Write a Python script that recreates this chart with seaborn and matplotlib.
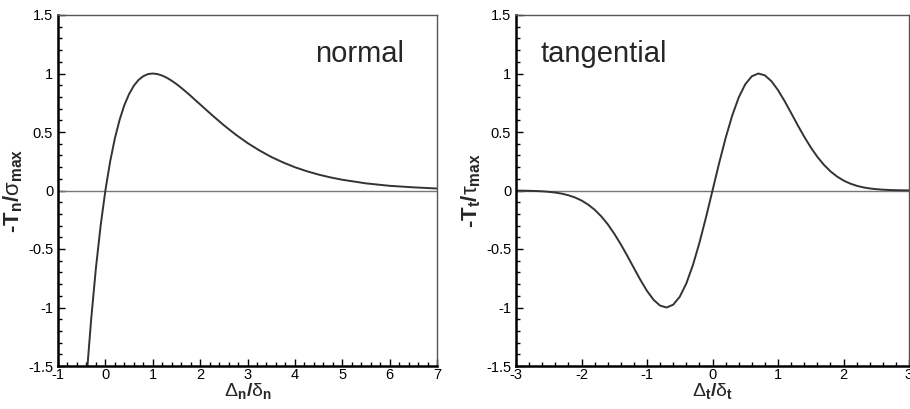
import numpy as np
import matplotlib
matplotlib.use("Agg")
import matplotlib.pyplot as plt
from matplotlib.ticker import MultipleLocator
import seaborn as sns
import pandas as pd

# normal traction-separation curve
normal_sep = [-0.38, -0.3, -0.2, -0.1, 0.0, 0.1, 0.2, 0.3, 0.4, 0.5, 0.6, 0.7, 0.8, 0.9,
              1.0, 1.1, 1.2, 1.3, 1.4, 1.5, 1.6, 1.7, 1.8, 1.9, 2.0, 2.25, 2.5, 2.75,
              3.0, 3.25, 3.5, 3.75, 4.0, 4.25, 4.5, 4.75, 5.0, 5.5, 6.0, 6.5, 7.0]
normal_trac = [-1.510, -1.101, -0.664, -0.300, 0.0, 0.246, 0.445, 0.604, 0.729, 0.824,
               0.895, 0.945, 0.977, 0.995, 1.0, 0.995, 0.982, 0.963, 0.938, 0.910,
               0.878, 0.844, 0.809, 0.772, 0.736, 0.645, 0.558, 0.478, 0.406, 0.343,
               0.287, 0.240, 0.199, 0.165, 0.136, 0.112, 0.092, 0.061, 0.040, 0.027, 0.017]

# tangential traction-separation curve
tang_sep = [-3.0, -2.9, -2.8, -2.7, -2.6, -2.5, -2.4, -2.3, -2.2, -2.1, -2.0, -1.9, -1.8,
            -1.7, -1.6, -1.5, -1.4, -1.3, -1.2, -1.1, -1.0, -0.9, -0.8, -0.7, -0.6, -0.5,
            -0.4, -0.3, -0.2, -0.1, 0.0, 0.1, 0.2, 0.3, 0.4, 0.5, 0.6, 0.7, 0.8, 0.9,
            1.0, 1.1, 1.2, 1.3, 1.4, 1.5, 1.6, 1.7, 1.8, 1.9, 2.0, 2.1, 2.2, 2.3, 2.4,
            2.5, 2.6, 2.7, 2.8, 2.9, 3.0]
tang_trac = [-0.0009, -0.0015, -0.0026, -0.0043, -0.0070, -0.0113, -0.0176, -0.0270,
             -0.0406, -0.0595, -0.0854, -0.120, -0.164, -0.220, -0.288, -0.369, -0.460,
             -0.559, -0.663, -0.765, -0.858, -0.934, -0.984, -1.000, -0.976, -0.908,
             -0.795, -0.639, -0.448, -0.231, 0.0, 0.231, 0.448, 0.639, 0.795, 0.908,
             0.976, 1.000, 0.984, 0.934, 0.858, 0.765, 0.663, 0.559, 0.460, 0.369,
             0.288, 0.220, 0.164, 0.120, 0.0854, 0.0595, 0.0406, 0.0270, 0.0176,
             0.0113, 0.0070, 0.0043, 0.0026, 0.0015, 0.0009]

sns.set_style("white")
plt.rcParams['font.family'] = ['Liberation Sans', 'DejaVu Sans']
plt.rcParams['mathtext.fontset'] = 'custom'
plt.rcParams['mathtext.rm'] = 'Liberation Sans'
plt.rcParams['mathtext.it'] = 'Liberation Sans'
plt.rcParams['mathtext.bf'] = 'Liberation Sans:bold'

fig = plt.figure(figsize=(9.1, 4.09), dpi=100)
ax1 = fig.add_axes([58/910, 43/409, 379/910, 351/409])
ax2 = fig.add_axes([516/910, 43/409, 393/910, 351/409])

df_n = pd.DataFrame({"sep": normal_sep, "trac": normal_trac})
df_t = pd.DataFrame({"sep": tang_sep, "trac": tang_trac})

panels = [
    (ax1, df_n, (-1, 7), r'$\Delta_\mathbf{n}\mathbf{/}\delta_\mathbf{n}$',
     r'-$\mathbf{T_n/}\sigma_\mathbf{max}$', "normal", 4.42),
    (ax2, df_t, (-3, 3), r'$\Delta_\mathbf{t}\mathbf{/}\delta_\mathbf{t}$',
     r'-$\mathbf{T_t/}\tau_\mathbf{max}$', "tangential", -2.63),
]

for ax, df, xlim, xl, yl, name, tx in panels:
    ax.axhline(0, color="#777777", lw=1.0, zorder=1)
    sns.lineplot(data=df, x="sep", y="trac", ax=ax, color="#333333", lw=1.4,
                 estimator=None, sort=False, zorder=2)
    ax.set_xlim(*xlim)
    ax.set_ylim(-1.5, 1.5)
    ax.xaxis.set_major_locator(MultipleLocator(1))
    ax.xaxis.set_minor_locator(MultipleLocator(0.2))
    ax.yaxis.set_major_locator(MultipleLocator(0.5))
    ax.yaxis.set_minor_locator(MultipleLocator(0.1))
    ax.yaxis.set_major_formatter(plt.FuncFormatter(lambda v, p: "%g" % v))
    ax.xaxis.set_major_formatter(plt.FuncFormatter(lambda v, p: "%g" % v))
    ax.tick_params(which="both", direction="in", top=False, right=False,
                   left=True, bottom=True, colors="black", labelsize=10.5)
    ax.tick_params(axis="y", pad=3.5)
    ax.tick_params(axis="x", pad=1.5)
    ax.tick_params(which="major", length=5, width=1)
    ax.tick_params(which="minor", length=3, width=1)
    for s in ["left", "bottom"]:
        ax.spines[s].set_linewidth(1.8)
        ax.spines[s].set_color("black")
    for s in ["top", "right"]:
        ax.spines[s].set_linewidth(1.0)
        ax.spines[s].set_color("#555555")
    ax.set_xlabel(xl, fontsize=14, labelpad=-1)
    ax.set_ylabel(yl, fontsize=16, fontweight="bold", labelpad=2)
    ax.text(tx, 1.1, name, fontsize=21, va="baseline", ha="left")

fig.savefig("out.png", dpi=100)
